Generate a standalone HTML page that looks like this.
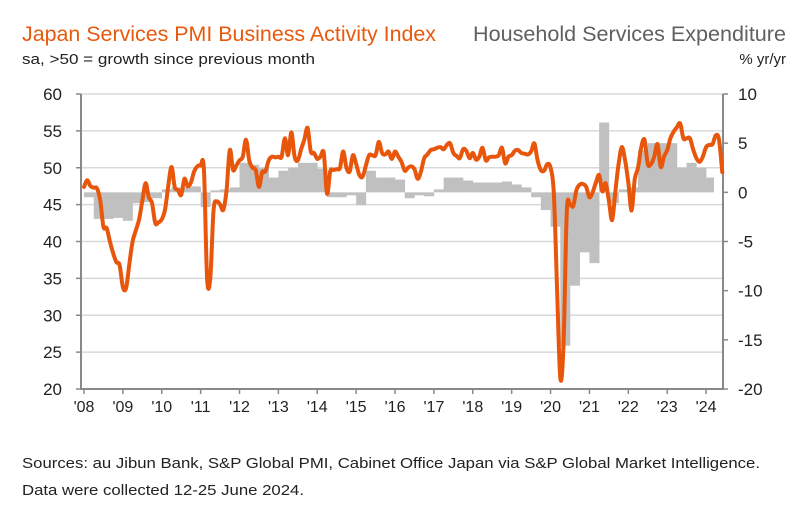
<!DOCTYPE html>
<html><head><meta charset="utf-8"><style>
html,body{margin:0;padding:0;background:#fff;}
svg{display:block;font-family:"Liberation Sans",sans-serif;}
</style></head><body>
<svg id="chart" width="812" height="516" viewBox="0 0 812 516" xmlns="http://www.w3.org/2000/svg">
<text x="22" y="41" font-size="21" fill="#e8590c" textLength="414" lengthAdjust="spacingAndGlyphs">Japan Services PMI Business Activity Index</text>
<text x="473" y="41" font-size="21" fill="#606060" textLength="313" lengthAdjust="spacingAndGlyphs">Household Services Expenditure</text>
<text x="22" y="64" font-size="15" fill="#222" textLength="293" lengthAdjust="spacingAndGlyphs">sa, &gt;50 = growth since previous month</text>
<text x="786" y="64" font-size="15" fill="#222" text-anchor="end">% yr/yr</text>
<g id="grid"></g>
<g id="bars"></g>
<g id="axes"></g>
<path id="pmi" fill="none" stroke="#e8560c" stroke-width="4" stroke-linejoin="round" stroke-linecap="round"/>
<text x="22" y="468" font-size="14.5" fill="#222" textLength="738" lengthAdjust="spacingAndGlyphs">Sources: au Jibun Bank, S&amp;P Global PMI, Cabinet Office Japan via S&amp;P Global Market Intelligence.</text>
<text x="22" y="495" font-size="14.5" fill="#222" textLength="282" lengthAdjust="spacingAndGlyphs">Data were collected 12-25 June 2024.</text>
</svg>
<script>
const pmiValues=[47.4,48.3,47.5,47.3,47.2,45.6,42,41.8,40,38.4,37.2,36.8,
33.8,33.7,37,40,41.5,43,45.5,47.9,46,45.2,42.5,42.6,
43,44.3,47.5,50.1,47.4,47,46.3,48.5,47.5,48,49.5,50.2,
50.3,49.8,35,35.2,44.3,45.4,45,44.3,47,52.4,49.7,50.3,
51,51.5,53.8,51,50,49.7,47.4,49.4,49.5,51,51.5,51.4,
51.5,51.5,54,51.7,54.8,51.5,51,52.5,53.8,55.4,52.2,52,
51.2,51.5,52,46.5,49.5,49.7,49.8,50,52.2,50,49.5,51.7,
50.5,49,48.8,50.3,51.7,51.7,51.7,53.5,52,51.8,52.2,51.2,
52.2,51.5,50.8,49.6,50,50.2,49.8,48.5,49.5,51.3,51.8,52.4,
52.5,52.7,52.8,52.5,53.1,53.3,52,51.6,51.3,52.5,52.3,51.3,
52,51.1,51.5,52.7,51,51.4,51.5,51.5,51.7,52.7,50.6,51.5,
51.7,52.3,52.4,52,51.9,51.8,52.2,53.3,51,49.7,49.6,50.5,
50,46.6,33.8,21.5,26,44,45,44.8,47,47.7,47.8,47.4,
46,46.7,48,49,46.8,47.9,45.5,42.9,46.8,50.5,52.8,51,
48,44.2,48.5,50,52.8,53.8,50.5,50.5,51.5,53.2,50.1,51.5,
52.4,54,54.9,55.5,56,54,54,54,52.5,51.3,50.8,51.5,
52.8,53.1,53.2,54.4,53.8,49.4];
const expValues=[-0.5,-2.7,-2.7,-2.6,-2.9,-1.1,-1.0,-0.6,0.3,0.5,0.5,0.6,
-1.5,0.2,0.3,0.5,3.0,2.8,2.5,1.5,2.2,2.5,3.0,3.0,
2.4,-0.5,-0.5,-0.3,-1.3,2.2,1.5,1.5,1.3,-0.6,-0.3,-0.4,
0.3,1.5,1.5,1.2,1.0,1.0,1.0,1.1,0.8,0.5,-0.5,-1.8,
-3.5,-15.6,-9.5,-6.1,-7.2,7.1,-1.1,0.3,0.5,4.3,5.0,5.0,
5.0,2.5,3.0,2.5,1.5,1.5];
const leftTicks=[20,25,30,35,40,45,50,55,60];
const rightTicks=[-20,-15,-10,-5,0,5,10];
const yearLabels=["'08","'09","'10","'11","'12","'13","'14","'15","'16","'17","'18","'19","'20","'21","'22","'23","'24"];
const NS="http://www.w3.org/2000/svg";
const X0=84,MW=3.24,L=81,R=723,T=94,B=389,BAR_END=714;
const yL=v=>T+(60-v)*(B-T)/40;
const yR=v=>T+(10-v)*(B-T)/30;
const xM=i=>X0+i*MW;
function mk(tag,attrs,parent,txt){const e=document.createElementNS(NS,tag);for(const k in attrs)e.setAttribute(k,attrs[k]);if(txt!==undefined)e.textContent=txt;parent.appendChild(e);return e;}
const grid=document.getElementById('grid'),bars=document.getElementById('bars'),axes=document.getElementById('axes');
leftTicks.forEach(v=>{
  const g=mk('line',{x1:L,x2:R,y1:yL(v),y2:yL(v),stroke:'#d9d9d9','stroke-width':1.5},grid);
  
  
  const t=mk('text',{x:62,y:yL(v)+6,'font-size':17,'text-anchor':'end',fill:'#222'},axes,String(v));
  
  
  mk('line',{x1:L-5,x2:L,y1:yL(v),y2:yL(v),stroke:'#888','stroke-width':1.5},axes);
});
rightTicks.forEach(v=>{
  const t=mk('text',{x:738,y:yR(v)+6,'font-size':17,fill:'#222'},axes,String(v));
  
  
  mk('line',{x1:R,x2:R+5,y1:yR(v),y2:yR(v),stroke:'#888','stroke-width':1.5},axes);
});
expValues.forEach((v,q)=>{
  const x=xM(q*3),w=Math.min(MW*3+0.3,BAR_END-x);
  const y0=yR(0),y1=yR(v);
  const r=mk('rect',{x:x,y:Math.min(y0,y1),width:w,height:Math.abs(y1-y0),fill:'#c0c0c0'},bars);
  
  
});
mk('line',{x1:L,x2:L,y1:T,y2:B+1,stroke:'#888','stroke-width':2},axes);
mk('line',{x1:R,x2:R,y1:T,y2:B+1,stroke:'#888','stroke-width':2},axes);
mk('line',{x1:L,x2:R,y1:B,y2:B,stroke:'#888','stroke-width':2},axes);
yearLabels.forEach((s,k)=>{
  const x=xM(k*12);
  mk('line',{x1:x,x2:x,y1:B,y2:B+5,stroke:'#888','stroke-width':1.5},axes);
  const t=mk('text',{x:x,y:B+23,'font-size':16,'text-anchor':'middle',fill:'#222'},axes,s);
  
  
});
// smooth (Catmull-Rom) path through the data points
const pts=pmiValues.map((v,i)=>[xM(i),yL(v)]);
let d='M'+pts[0][0].toFixed(1)+','+pts[0][1].toFixed(1);
for(let i=0;i<pts.length-1;i++){
  const p0=pts[Math.max(0,i-1)],p1=pts[i],p2=pts[i+1],p3=pts[Math.min(pts.length-1,i+2)];
  const c1=[p1[0]+(p2[0]-p0[0])/6,p1[1]+(p2[1]-p0[1])/6];
  const c2=[p2[0]-(p3[0]-p1[0])/6,p2[1]-(p3[1]-p1[1])/6];
  d+='C'+c1[0].toFixed(1)+','+c1[1].toFixed(1)+' '+c2[0].toFixed(1)+','+c2[1].toFixed(1)+' '+p2[0].toFixed(1)+','+p2[1].toFixed(1);
}
document.getElementById('pmi').setAttribute('d',d);
</script>
</body></html>
